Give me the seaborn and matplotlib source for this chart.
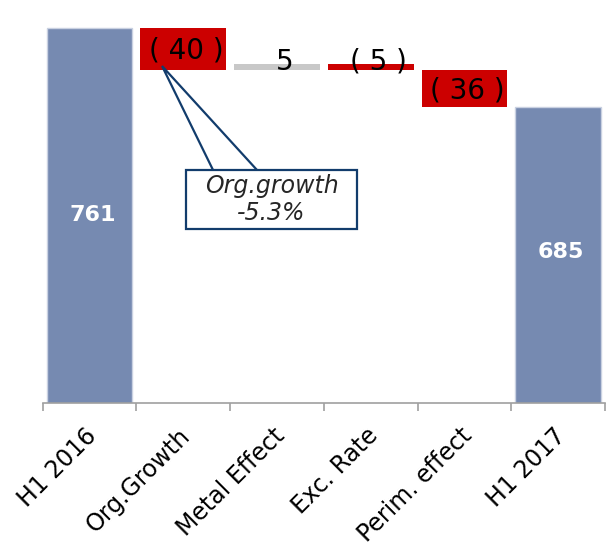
import numpy as np
import matplotlib
matplotlib.use("Agg")
import matplotlib.pyplot as plt
from matplotlib.patches import Rectangle
from matplotlib.transforms import ScaledTranslation
import seaborn as sns

# Waterfall: H1 2016 sales bridge to H1 2017
categories = ["H1 2016", "Org.Growth", "Metal Effect", "Exc. Rate", "Perim. effect", "H1 2017"]
start_total = 761
deltas = [-40, 5, -5, -36]
end_total = 685
callout_lines = ["Org.growth", "-5.3%"]

BLUE = "#768ab1"
RED = "#cc0000"
GREY = "#c8c8c8"

# bottoms / heights of every bar of the bridge
bottoms = [0]
heights = [start_total]
level = start_total
for d in deltas:
    bottoms.append(min(level, level + d))
    heights.append(abs(d))
    level += d
bottoms.append(0)
heights.append(end_total)

face = [BLUE] + [RED if d < 0 else GREY for d in deltas] + [BLUE]
edge = ["#c9d1e1"] + face[1:-1] + ["#c9d1e1"]
lws = [1.0] + [0.0] * len(deltas) + [1.0]

sns.set_theme(style="white")
plt.rcParams["font.family"] = ["DejaVu Sans"]

fig = plt.figure(figsize=(6.06, 5.48), dpi=100)
ax = fig.add_axes([0.0705, 0.2651, 0.928, 0.7349])

sns.barplot(x=categories, y=heights, bottom=bottoms, width=0.915,
            errorbar=None, saturation=1, ax=ax, color=BLUE,
            facecolor=face, edgecolor=edge, linewidth=lws)

ax.set_xlim(-0.5, len(categories) - 0.5)
ax.set_ylim(398, 788.4)

# value labels
for i, (b, h) in enumerate(zip(bottoms, heights)):
    if i in (0, len(categories) - 1):
        ax.text(i + 0.03, b + 398 + (h - 398) / 2 + (0 if i == 0 else 3), f"{h}",
                ha="center", va="center", color="white",
                fontsize=16, fontweight="bold")
        continue
    d = deltas[i - 1]
    txt = f"( {abs(d)} )" if d < 0 else f"{d}"
    if abs(d) >= 20:
        ax.text(i + 0.03, b + h / 2 - 2, txt, ha="center", va="center",
                color="black", fontsize=20)
    else:
        ax.text(i + 0.08, b + h + 2.5, txt, ha="center", va="center",
                color="black", fontsize=20)

# axis styling: ticks at the category boundaries, labels at the centres
ax.set_yticks([])
for s in ("left", "top", "right"):
    ax.spines[s].set_visible(False)
ax.spines["bottom"].set_color("#a0a0a0")
ax.spines["bottom"].set_linewidth(1.2)

ax.set_xticks(np.arange(-0.5, len(categories)))
ax.set_xticklabels([])
ax.set_xticks(np.arange(len(categories)), minor=True)
ax.set_xticklabels(categories, minor=True, rotation=45, ha="right",
                   rotation_mode="anchor", fontsize=17, color="black")
ax.tick_params(axis="x", which="major", length=5.5, width=1.2,
               color="#a0a0a0", bottom=True)
ax.tick_params(axis="x", which="minor", length=0, pad=15, bottom=True)
shift = ScaledTranslation(-5 / 100, 0, fig.dpi_scale_trans)
for lab in ax.get_xticklabels(minor=True):
    lab.set_transform(lab.get_transform() + shift)
ax.set_xlabel("")
ax.set_ylabel("")

# callout for the organic growth rate
NAVY = "#123c6c"
tip = (0.773, 724.4)
base_l = (1.317, 623.6)
base_r = (1.786, 623.6)
ax.plot([base_l[0], tip[0], base_r[0]], [base_l[1], tip[1], base_r[1]],
        color=NAVY, lw=1.6, solid_joinstyle="miter", zorder=5, clip_on=False)
box = Rectangle((1.029, 566.4), 2.854 - 1.029, 623.6 - 566.4,
                facecolor="white", edgecolor=NAVY, lw=1.6, zorder=6)
ax.add_patch(box)
ax.text((1.029 + 2.854) / 2, (566.4 + 623.6) / 2, "\n".join(callout_lines),
        ha="center", va="center", fontsize=17, fontstyle="italic",
        color="#262626", linespacing=1.15, zorder=7)

fig.savefig("out.png", dpi=100)
